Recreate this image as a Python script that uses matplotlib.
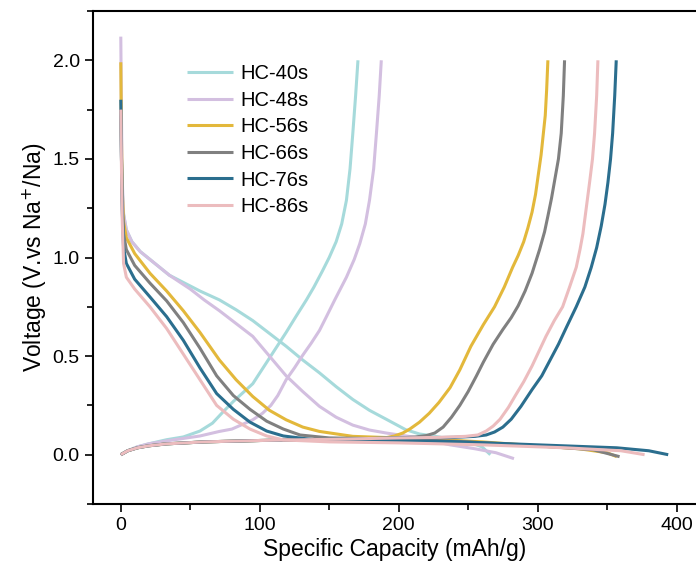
import numpy as np
import matplotlib.pyplot as plt
from matplotlib.ticker import MultipleLocator

plt.rcParams['font.family'] = ['Liberation Sans', 'DejaVu Sans']

labels = ['HC-40s', 'HC-48s', 'HC-56s', 'HC-66s', 'HC-76s', 'HC-86s']
colors = ['#a6dadb', '#d3bfe0', '#e3b83b', '#808080', '#2b6e8e', '#ecbcbe']

# discharge curves (capacity mAh/g, voltage V)
dis_40_x = [0, 0.5, 1, 2, 4, 8, 14, 21, 35, 57, 71, 83, 95, 107, 119, 131, 143, 155, 167, 179, 191, 205, 215, 225, 240, 252, 260, 266]
dis_40_y = [1.72, 1.5, 1.35, 1.22, 1.14, 1.08, 1.03, 0.99, 0.91, 0.83, 0.785, 0.735, 0.68, 0.615, 0.55, 0.48, 0.415, 0.345, 0.28, 0.225, 0.18, 0.127, 0.105, 0.095, 0.075, 0.06, 0.04, 0.0]
dis_48_x = [0, 0.5, 1, 2, 4, 8, 14, 21, 35, 50, 60, 71, 83, 95, 107, 119, 131, 143, 155, 167, 179, 191, 210, 237, 255, 270, 283]
dis_48_y = [2.12, 1.7, 1.4, 1.22, 1.14, 1.08, 1.03, 0.99, 0.91, 0.84, 0.785, 0.73, 0.665, 0.60, 0.50, 0.40, 0.32, 0.245, 0.19, 0.15, 0.125, 0.11, 0.09, 0.05, 0.03, 0.01, -0.02]
dis_56_x = [0, 0.5, 1, 2, 4, 10, 21, 33, 45, 57, 71, 83, 95, 107, 119, 131, 143, 167, 220, 260, 300, 330, 350, 357]
dis_56_y = [1.99, 1.6, 1.35, 1.18, 1.10, 1.02, 0.92, 0.83, 0.73, 0.62, 0.48, 0.38, 0.295, 0.225, 0.177, 0.14, 0.118, 0.093, 0.08, 0.065, 0.045, 0.03, 0.01, -0.01]
dis_66_x = [0, 0.5, 1, 2, 4, 10, 21, 33, 45, 57, 69, 81, 93, 105, 117, 129, 150, 200, 250, 300, 340, 359]
dis_66_y = [1.75, 1.5, 1.3, 1.12, 1.04, 0.96, 0.87, 0.78, 0.67, 0.54, 0.40, 0.30, 0.23, 0.17, 0.13, 0.10, 0.085, 0.08, 0.065, 0.045, 0.025, -0.01]
dis_76_x = [0, 0.5, 1, 2, 4, 10, 21, 33, 45, 57, 69, 81, 93, 105, 117, 140, 200, 237, 300, 357, 380, 394]
dis_76_y = [1.80, 1.5, 1.25, 1.05, 0.97, 0.89, 0.80, 0.70, 0.58, 0.44, 0.31, 0.23, 0.165, 0.12, 0.095, 0.075, 0.07, 0.067, 0.05, 0.035, 0.02, 0.0]
dis_86_x = [0, 0.5, 1, 2, 4, 10, 21, 33, 45, 57, 69, 81, 93, 105, 117, 150, 200, 260, 320, 360, 377]
dis_86_y = [1.75, 1.45, 1.2, 0.97, 0.90, 0.84, 0.75, 0.64, 0.51, 0.38, 0.25, 0.18, 0.13, 0.095, 0.075, 0.065, 0.06, 0.05, 0.035, 0.02, 0.0]

# charge curves
chg_40_x = [0, 5, 12, 20, 33, 45, 57, 66, 74, 81, 95, 107, 119, 126, 133.6, 139, 145, 150, 155, 159, 162.4, 165, 167, 169, 170.7]
chg_40_y = [0, 0.02, 0.04, 0.055, 0.076, 0.09, 0.12, 0.16, 0.22, 0.27, 0.36, 0.49, 0.62, 0.70, 0.785, 0.85, 0.93, 1.00, 1.08, 1.17, 1.29, 1.45, 1.63, 1.82, 2.0]
chg_48_x = [0, 5, 12, 20, 33, 57, 71, 80, 88, 95, 102, 108, 113, 119, 125, 131, 137, 143, 148, 154, 162.4, 168, 172, 176, 179, 182, 184, 186, 187.5]
chg_48_y = [0, 0.02, 0.04, 0.055, 0.07, 0.095, 0.118, 0.13, 0.155, 0.177, 0.21, 0.25, 0.30, 0.38, 0.44, 0.505, 0.565, 0.63, 0.70, 0.785, 0.90, 0.99, 1.07, 1.17, 1.29, 1.45, 1.63, 1.82, 2.0]
chg_56_x = [0, 5, 12, 20, 33, 60, 100, 150, 190, 197, 203, 208, 215, 222, 229, 237, 244, 252, 261, 269, 276, 282, 286, 290, 293, 296, 298.5, 300.5, 302.5, 304, 305.5, 306.5, 307.4]
chg_56_y = [0, 0.02, 0.035, 0.045, 0.055, 0.065, 0.072, 0.078, 0.085, 0.095, 0.11, 0.13, 0.165, 0.21, 0.265, 0.34, 0.43, 0.55, 0.66, 0.75, 0.85, 0.95, 1.01, 1.08, 1.15, 1.23, 1.32, 1.42, 1.52, 1.62, 1.72, 1.85, 2.0]
chg_66_x = [0, 5, 12, 20, 33, 60, 100, 150, 200, 212, 220, 226, 232, 238, 244, 250, 256, 261, 268, 275, 281, 286, 291, 296, 301.4, 305, 307.4, 310, 312, 315, 317, 318.5, 319.4]
chg_66_y = [0, 0.02, 0.035, 0.045, 0.055, 0.065, 0.072, 0.078, 0.085, 0.09, 0.097, 0.11, 0.14, 0.19, 0.25, 0.32, 0.40, 0.47, 0.56, 0.635, 0.695, 0.755, 0.83, 0.92, 1.04, 1.13, 1.21, 1.30, 1.38, 1.50, 1.63, 1.82, 2.0]
chg_76_x = [0, 5, 12, 20, 33, 60, 100, 150, 200, 240, 255, 263, 269, 275, 281, 288, 296, 303, 309, 315, 321, 327.8, 334, 338.6, 342.5, 345.8, 348.5, 350.6, 352.5, 354, 355.5, 356.6]
chg_76_y = [0, 0.02, 0.035, 0.045, 0.055, 0.065, 0.072, 0.078, 0.085, 0.088, 0.093, 0.10, 0.115, 0.14, 0.18, 0.245, 0.33, 0.40, 0.48, 0.56, 0.65, 0.75, 0.85, 0.95, 1.05, 1.16, 1.27, 1.38, 1.50, 1.63, 1.82, 2.0]
chg_86_x = [0, 5, 12, 20, 33, 60, 100, 150, 200, 230, 248, 257, 263, 268, 273, 279, 284, 290, 296, 306, 312, 318, 323, 327.8, 330.5, 332.6, 335, 337.4, 339.5, 341, 342.5, 343.4]
chg_86_y = [0, 0.02, 0.035, 0.045, 0.055, 0.065, 0.072, 0.078, 0.085, 0.088, 0.093, 0.10, 0.12, 0.145, 0.18, 0.24, 0.30, 0.37, 0.45, 0.60, 0.68, 0.75, 0.85, 0.95, 1.04, 1.12, 1.25, 1.38, 1.50, 1.63, 1.82, 2.0]

discharge = [(dis_40_x, dis_40_y), (dis_48_x, dis_48_y), (dis_56_x, dis_56_y),
             (dis_66_x, dis_66_y), (dis_76_x, dis_76_y), (dis_86_x, dis_86_y)]
charge = [(chg_40_x, chg_40_y), (chg_48_x, chg_48_y), (chg_56_x, chg_56_y),
          (chg_66_x, chg_66_y), (chg_76_x, chg_76_y), (chg_86_x, chg_86_y)]

fig = plt.figure(figsize=(6.96, 5.76), dpi=100)
ax = fig.add_axes([93 / 696, 72 / 576, 603 / 696, 493 / 576])

for i in range(6):
    ax.plot(discharge[i][0], discharge[i][1], color=colors[i], lw=2.2, label=labels[i],
            solid_capstyle='butt', solid_joinstyle='round')
    ax.plot(charge[i][0], charge[i][1], color=colors[i], lw=2.2,
            solid_capstyle='butt', solid_joinstyle='round')

ax.set_xlim(-20, 414)
ax.set_ylim(-0.25, 2.25)
ax.xaxis.set_major_locator(MultipleLocator(100))
ax.xaxis.set_minor_locator(MultipleLocator(50))
ax.yaxis.set_major_locator(MultipleLocator(0.5))
ax.yaxis.set_minor_locator(MultipleLocator(0.25))
ax.tick_params(which='both', direction='out', width=1.2, labelsize=14)
ax.tick_params(which='major', length=6)
ax.tick_params(which='minor', length=4)
ax.spines['right'].set_visible(False)
for s in ['left', 'bottom', 'top']:
    ax.spines[s].set_linewidth(1.5)

ax.set_xlabel('Specific Capacity (mAh/g)', fontsize=16.5, labelpad=3)
ax.set_ylabel('Voltage (V.vs Na$^{+}$/Na)', fontsize=16.5, labelpad=3)

ax.legend(loc='upper left', bbox_to_anchor=(0.1426, 0.909), frameon=False, fontsize=14.5,
          handlelength=2.3, labelspacing=0.38, handletextpad=0.35, borderaxespad=0)

plt.savefig('out.png', dpi=100)
